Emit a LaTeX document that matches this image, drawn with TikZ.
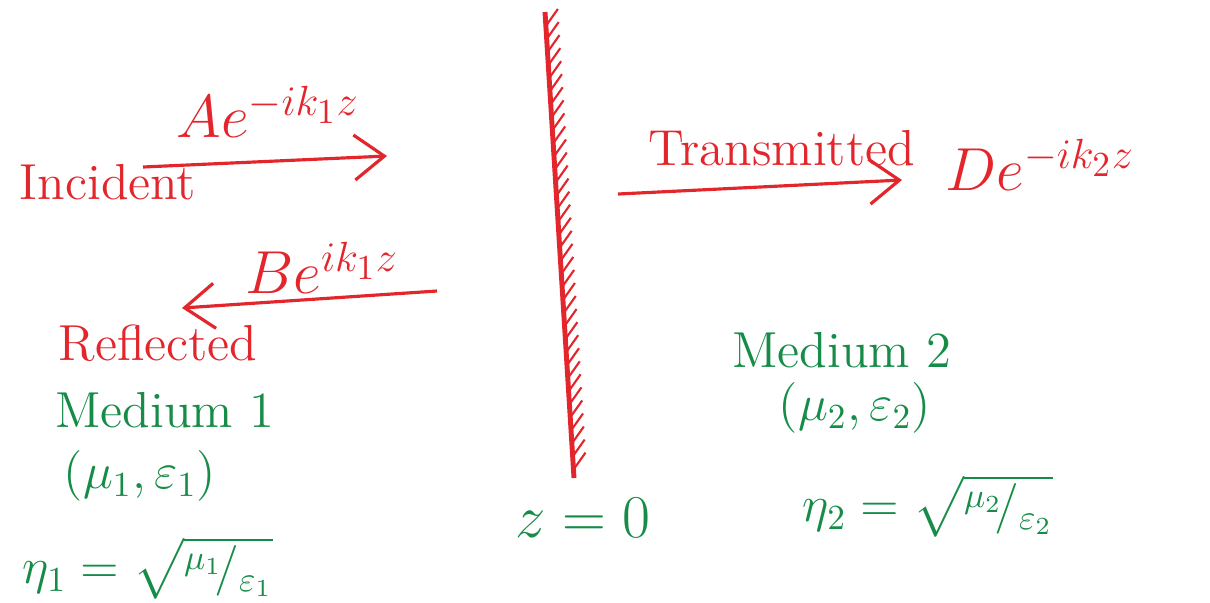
\documentclass[tikz,border=0pt]{standalone}
\usepackage{amsmath}
\usepackage{amssymb}
\usepackage{tikz}
\usetikzlibrary{arrows.meta,positioning,calc}

\definecolor{penred}{RGB}{226,38,44}
\definecolor{pengreen}{RGB}{22,140,72}
\newcommand{\slfrac}[2]{{}^{#1}\!/{}_{#2}}

\begin{document}
\begin{tikzpicture}[
  x=0.01cm, y=-0.01cm,
  redtxt/.style={text=penred, font=\Large, inner sep=1pt},
  greentxt/.style={text=pengreen, font=\Large, inner sep=1pt},
  wave/.style={draw=penred, line width=0.9pt, -{Straight Barb[length=3mm,width=4.5mm]}},
  wall/.style={draw=penred, line width=1.4pt},
  hatch/.style={draw=penred, line width=0.6pt}
]
\useasboundingbox (0,0) rectangle (1210,602);

% boundary between the two media
\coordinate (walltop) at (545,12);
\coordinate (wallbot) at (574,478);
\draw[wall] (walltop) -- (wallbot);
\foreach \t in {0.03,0.058,...,0.99}
  \draw[hatch] ($(walltop)!\t!(wallbot)$) -- ++(12,-17);
\node[greentxt, font=\LARGE] (zzero) at (583,518) {$z=0$};

% incident wave
\node[redtxt] (inc) at (108,182) {Incident};
\node[redtxt, font=\LARGE] (incamp) at (268,112) {$Ae^{-ik_1z}$};
\coordinate (incstart) at (143,167);
\coordinate (incend) at (387,156);
\draw[wave] (incstart) -- (incend);

% reflected wave
\node[redtxt, font=\LARGE] (refamp) at (322,268) {$Be^{ik_1z}$};
\node[redtxt] (refl) at (158,343) {Reflected};
\coordinate (refstart) at (437,291);
\coordinate (refend) at (182,308);
\draw[wave] (refstart) -- (refend);

% transmitted wave
\node[redtxt] (trans) at (782,148) {Transmitted};
\node[redtxt, font=\LARGE] (transamp) at (1040,165) {$De^{-ik_2z}$};
\coordinate (transstart) at (618,194);
\coordinate (transend) at (902,180);
\draw[wave] (transstart) -- (transend);

% medium 1
\node[greentxt] (med1) at (165,410) {Medium 1};
\node[greentxt] (par1) at (140,476) {$(\mu_1,\varepsilon_1)$};
\node[greentxt] (eta1) at (148,568) {$\eta_1=\sqrt{\slfrac{\mu_1}{\varepsilon_1}}$};

% medium 2
\node[greentxt] (med2) at (842,350) {Medium 2};
\node[greentxt] (par2) at (855,408) {$(\mu_2,\varepsilon_2)$};
\node[greentxt] (eta2) at (928,506) {$\eta_2=\sqrt{\slfrac{\mu_2}{\varepsilon_2}}$};
\end{tikzpicture}
\end{document}
